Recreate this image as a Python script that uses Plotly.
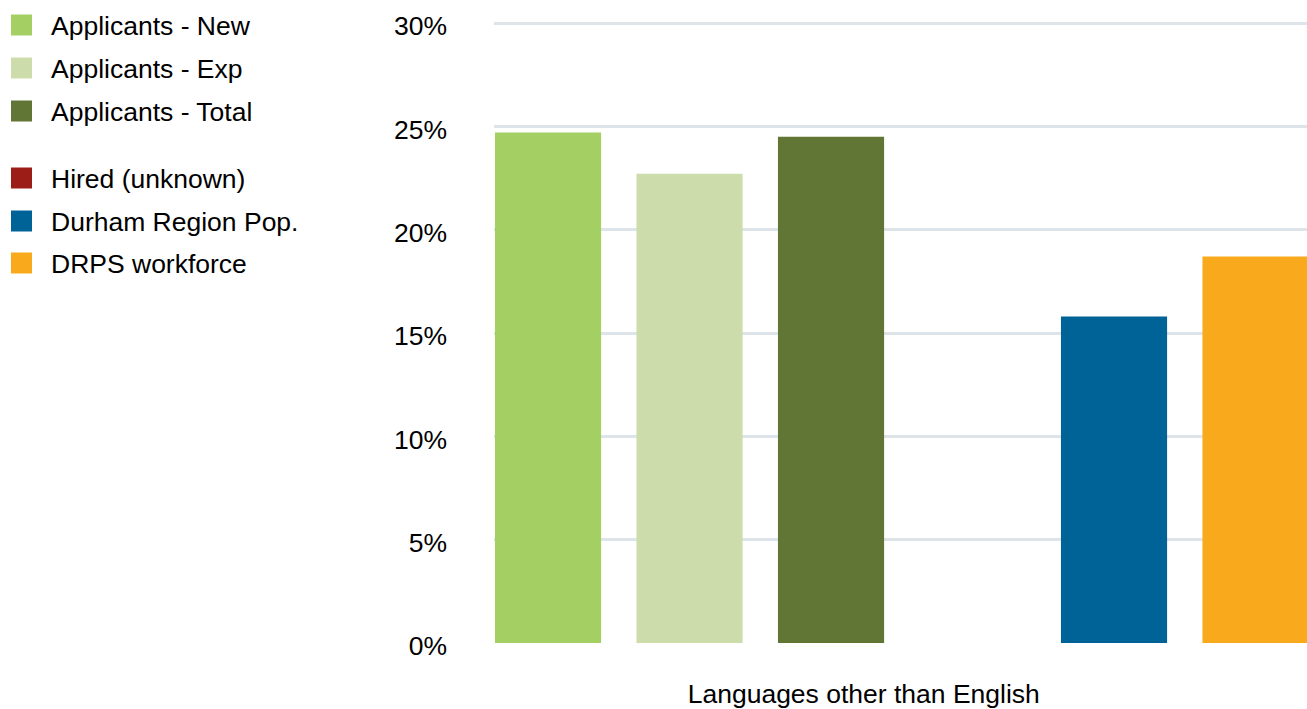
import plotly.graph_objects as go

# ---- data ----
categories = ["Languages other than English"]
series_names = ["Applicants - New", "Applicants - Exp", "Applicants - Total",
                "Hired (unknown)", "Durham Region Pop.", "DRPS workforce"]
series_values = [24.7, 22.7, 24.5, None, 15.8, 18.7]
series_colors = ["#a4cf63", "#cddcab", "#617535", "#9c1c17", "#006398", "#f9a91c"]
y_tick_values = [0, 5, 10, 15, 20, 25, 30]
y_tick_labels = ["0%", "5%", "10%", "15%", "20%", "25%", "30%"]

# ---- layout geometry (pixels) ----
W, H = 1307, 709
ML, MR, MT, MB = 494, 0, 18, 66
PW, PH = W - ML - MR, H - MT - MB
FONT = "Liberation Sans, Arial, Helvetica, sans-serif"
FS = 26.5
Y_TOP = 30 + 5 / (620 / 30)   # 30% line sits 5px below plot top


def px_to_paper_x(px):
    return (px - ML) / PW


def px_to_paper_y(py):
    return 1 - (py - MT) / PH


fig = go.Figure()
for name, val, col in zip(series_names, series_values, series_colors):
    fig.add_trace(go.Bar(
        x=categories, y=[val], name=name,
        marker=dict(color=col, line=dict(width=0)),
        showlegend=False,
        hovertemplate="%{y}%<extra>" + name + "</extra>",
    ))

# ---- custom legend (squares + text) ----
row_centers = [25, 68, 111, 178, 221, 263]
shapes = []
annotations = []
for name, col, cy in zip(series_names, series_colors, row_centers):
    shapes.append(dict(
        type="rect", xref="paper", yref="paper",
        x0=px_to_paper_x(11), x1=px_to_paper_x(32),
        y0=px_to_paper_y(cy - 10.5), y1=px_to_paper_y(cy + 10.5),
        fillcolor=col, line=dict(width=0), layer="above",
    ))
    annotations.append(dict(
        xref="paper", yref="paper",
        x=px_to_paper_x(49), y=px_to_paper_y(cy + 1),
        xanchor="left", yanchor="middle",
        text=name, showarrow=False,
        font=dict(family=FONT, size=FS, color="#000000"),
    ))

fig.update_layout(
    width=W, height=H,
    margin=dict(l=ML, r=MR, t=MT, b=MB, pad=0),
    paper_bgcolor="white", plot_bgcolor="white",
    barmode="group", bargap=0, bargroupgap=0.25,
    font=dict(family=FONT, size=FS, color="#000000"),
    shapes=shapes, annotations=annotations,
    showlegend=False,
)
fig.update_xaxes(
    type="category", range=[-0.4803, 0.4773],
    showgrid=False, showline=False, zeroline=False, ticks="",
    tickfont=dict(family=FONT, size=FS, color="#000000"),
    ticklabelstandoff=32, ticklabelshift=-38,
)
fig.update_yaxes(
    range=[0, Y_TOP], tickvals=y_tick_values, ticktext=y_tick_labels,
    showgrid=True, gridcolor="#dde5ea", gridwidth=3,
    zeroline=False, showline=False, ticks="",
    tickfont=dict(family=FONT, size=FS, color="#000000"),
    ticklabelstandoff=46, ticklabelshift=3,
)

fig.write_html("out.html")
